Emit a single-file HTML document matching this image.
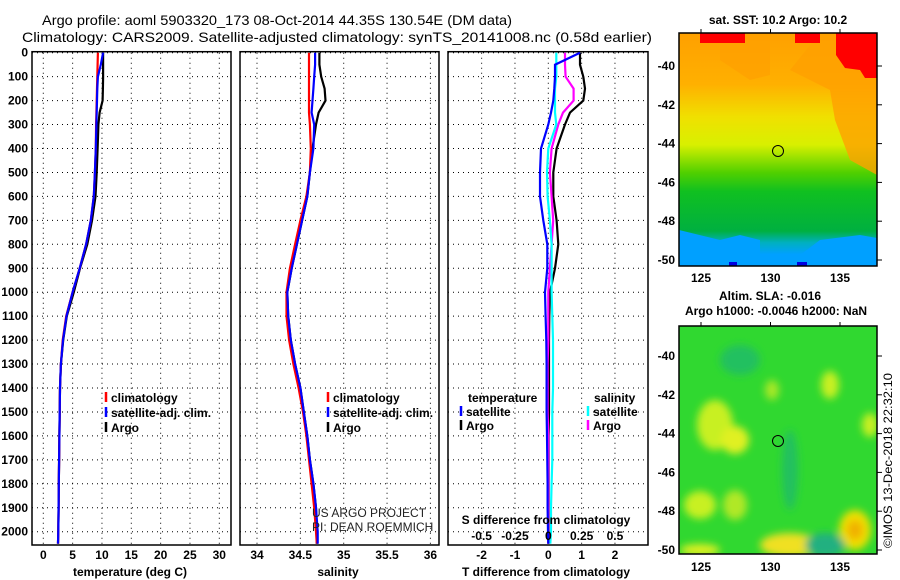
<!DOCTYPE html>
<html><head><meta charset="utf-8"><style>
html,body{margin:0;padding:0;background:#fff;}
svg{display:block;font-family:"Liberation Sans",sans-serif;}
.tk{font-size:12px;font-weight:bold;fill:#000;}
.lg{font-size:12px;font-weight:bold;fill:#000;}
</style></head><body>
<svg id="chart" width="900" height="580" viewBox="0 0 900 580" xmlns="http://www.w3.org/2000/svg">
<defs>
<linearGradient id="sstg" x1="0" y1="0" x2="0" y2="1">
<stop offset="0" stop-color="#ffa000"/><stop offset="0.22" stop-color="#ffb000"/>
<stop offset="0.36" stop-color="#f0e000"/><stop offset="0.48" stop-color="#d8f000"/>
<stop offset="0.6" stop-color="#50d000"/><stop offset="0.68" stop-color="#10c020"/>
<stop offset="0.85" stop-color="#00b040"/><stop offset="0.9" stop-color="#00b0c0"/>
<stop offset="0.95" stop-color="#00a0ff"/><stop offset="1" stop-color="#00a0ff"/>
</linearGradient>
<filter id="blur" x="-50%" y="-50%" width="200%" height="200%"><feGaussianBlur stdDeviation="4"/></filter>
<clipPath id="c1"><rect x="679" y="33" width="198" height="233"/></clipPath>
<clipPath id="c2"><rect x="679" y="326" width="198" height="228"/></clipPath>
</defs>
<g>
<text x="42" y="25" font-size="14" textLength="470" lengthAdjust="spacingAndGlyphs">Argo profile: aoml 5903320_173 08-Oct-2014 44.35S 130.54E (DM data)</text>
<text x="22" y="42" font-size="14" textLength="630" lengthAdjust="spacingAndGlyphs">Climatology: CARS2009. Satellite-adjusted climatology: synTS_20141008.nc (0.58d earlier)</text>
</g>
<g id="p1"></g>
<g id="p2"></g>
<g id="p3"></g>
<text x="312" y="517" font-size="12" fill="#222">US ARGO PROJECT</text>
<text x="312" y="531" font-size="12" fill="#222">PI: DEAN ROEMMICH</text>

<g>
<text x="778" y="24" text-anchor="middle" class="tk">sat. SST: 10.2 Argo: 10.2</text>
<g clip-path="url(#c1)">
<rect x="679" y="33" width="198" height="233" fill="url(#sstg)"/>
<path d="M820 33 L877 33 L877 175 L850 160 L835 120 L830 90 L810 80 L790 70 Z" fill="#ffa000" opacity="0.8"/>
<path d="M720 33 L770 33 L770 75 L750 80 L735 70 L720 60 Z" fill="#ffa000" opacity="0.7"/>
<rect x="700" y="33" width="45" height="10" fill="#ff0000"/>
<rect x="795" y="33" width="25" height="10" fill="#ff0000"/>
<path d="M836 33 L877 33 L877 78 L865 78 L860 70 L845 68 L836 55 Z" fill="#ff0000"/>
<path d="M679 230 L720 240 L740 235 L760 240 L760 266 L679 266 Z" fill="#00a0ff"/>
<path d="M800 255 L820 240 L860 235 L877 238 L877 266 L800 266 Z" fill="#00a0ff"/>
<rect x="729" y="262" width="8" height="4" fill="#0000e0"/>
<rect x="797" y="262" width="10" height="4" fill="#0000e0"/>
</g>
<rect x="679" y="33" width="198" height="233" fill="none" stroke="#000" stroke-width="1.5"/>
<circle cx="778" cy="151" r="5.5" fill="none" stroke="#000" stroke-width="1"/>
</g>

<g>
<text x="770" y="300" text-anchor="middle" class="tk">Altim. SLA: -0.016</text>
<text x="776" y="315" text-anchor="middle" class="tk">Argo h1000: -0.0046 h2000: NaN</text>
<g clip-path="url(#c2)">
<rect x="679" y="326" width="198" height="228" fill="#30d830"/>
<g filter="url(#blur)">
<ellipse cx="715" cy="425" rx="18" ry="25" fill="#c8f020"/>
<ellipse cx="735" cy="440" rx="14" ry="14" fill="#e0f020"/>
<ellipse cx="735" cy="505" rx="12" ry="15" fill="#b0e828"/>
<ellipse cx="700" cy="505" rx="16" ry="14" fill="#c8f020"/>
<ellipse cx="830" cy="385" rx="9" ry="14" fill="#c8f020"/>
<ellipse cx="772" cy="390" rx="7" ry="10" fill="#a8e828"/>
<ellipse cx="855" cy="530" rx="16" ry="20" fill="#f0e000"/>
<ellipse cx="855" cy="530" rx="8" ry="10" fill="#f0b000"/>
<ellipse cx="790" cy="545" rx="30" ry="12" fill="#f0e020"/>
<ellipse cx="700" cy="550" rx="20" ry="6" fill="#e0f020"/>
<ellipse cx="825" cy="545" rx="20" ry="12" fill="#20b080"/>
<ellipse cx="790" cy="470" rx="8" ry="40" fill="#20c060"/>
<ellipse cx="740" cy="360" rx="20" ry="15" fill="#20c060"/>
<ellipse cx="870" cy="425" rx="8" ry="12" fill="#c8f020"/>
</g>
</g>
<rect x="679" y="326" width="198" height="228" fill="none" stroke="#000" stroke-width="1.5"/>
<circle cx="778" cy="441" r="5.5" fill="none" stroke="#000" stroke-width="1"/>
</g>
<text transform="translate(892,548) rotate(-90)" font-size="12" textLength="175" lengthAdjust="spacingAndGlyphs">©IMOS 13-Dec-2018 22:32:10</text>
</svg>
<script>
const depths=[0,50,100,150,200,250,300,400,500,600,700,800,900,1000,1100,1200,1300,1400,1500,1600,1700,1800,1900,2000,2050];
const tempClim=[9.3,9.25,9.2,9.15,9.1,9.05,9.0,8.95,8.8,8.6,8.1,7.3,6.2,5.0,3.9,3.3,3.0,2.85,2.8,2.75,2.7,2.65,2.6,2.55,2.5];
const tempSat=[10.2,9.8,9.3,9.2,9.15,9.1,9.05,8.95,8.8,8.6,8.1,7.3,6.2,5.0,3.95,3.35,3.0,2.85,2.8,2.75,2.7,2.65,2.6,2.55,2.5];
const tempArgo=[10.2,10.2,10.2,10.15,10.1,9.6,9.4,9.25,9.1,8.9,8.3,7.5,6.25,5.2,4.0,3.4,3.0,2.85,2.8,2.75,2.7,2.65,2.6,2.55,2.5];
const salClim=[34.60,34.60,34.60,34.60,34.60,34.60,34.61,34.62,34.61,34.57,34.50,34.44,34.38,34.34,34.34,34.37,34.42,34.48,34.53,34.57,34.60,34.63,34.66,34.68,34.69];
const salSat=[34.67,34.67,34.66,34.65,34.64,34.63,34.66,34.65,34.61,34.58,34.52,34.46,34.40,34.35,34.36,34.39,34.44,34.50,34.54,34.58,34.61,34.65,34.68,34.70,34.70];
const salArgo=[34.72,34.72,34.74,34.78,34.79,34.71,34.68,34.64,34.61,34.58,34.52,34.46,34.40,34.35,34.36,34.39,34.44,34.50,34.54,34.58,34.61,34.65,34.68,34.69,34.69];
const dTSat=[0.95,0.2,0.2,0.18,0.15,0.08,0.0,-0.22,-0.25,-0.25,-0.15,-0.03,-0.03,-0.1,-0.08,-0.06,-0.05,-0.05,-0.05,-0.04,-0.03,-0.02,-0.02,-0.01,0];
const dTArgo=[0.95,0.95,1.05,1.1,1.05,0.65,0.5,0.25,0.15,0.15,0.25,0.3,0.2,0.05,0.03,0.02,0.02,0.02,0.02,0.01,0.01,0.01,0.01,0.01,0];
const dSSat=[0.06,0.06,0.06,0.05,0.05,0.05,0.06,0.0,-0.01,-0.005,0.012,0.025,0.025,0.025,0.03,0.035,0.035,0.035,0.03,0.03,0.03,0.025,0.02,0.02,0.015];
const dSArgo=[0.125,0.125,0.13,0.19,0.19,0.11,0.075,0.025,0.012,0.025,0.037,0.025,0.012,0.0,0.0,0.0,-0.005,-0.005,-0.005,0.0,0.0,0.0,0.0,0.0,0.0];
const depthTicks=[0,100,200,300,400,500,600,700,800,900,1000,1100,1200,1300,1400,1500,1600,1700,1800,1900,2000];
const tempTicks=[0,5,10,15,20,25,30];
const salTicks=[34,34.5,35,35.5,36];
const salTickLabels=["34","34.5","35","35.5","36"];
const dTTicks=[-2,-1,0,1,2];
const dSTicks=[-0.5,-0.25,0,0.25,0.5];
const dSTickLabels=["-0.5","-0.25","0","0.25","0.5"];

const NS="http://www.w3.org/2000/svg";
const Y0=52.7, Y1=545;
const yD=d=>Y0+d*0.2395;
const xT=t=>43.3+t*5.867;
const xS=s=>257+(s-34)*86.7;
const xdT=t=>548.3+t*33.33;
const xdS=s=>548.3+s*133.3;
function el(p,tag,at){const e=document.createElementNS(NS,tag);for(const k in at)e.setAttribute(k,at[k]);p.appendChild(e);return e;}
function txt(p,x,y,s,anchor,cls){const t=el(p,'text',{x:x,y:y,'text-anchor':anchor||'start','class':cls||'tk'});t.textContent=s;return t;}
function panel(g,x0,x1,vticks,xf){
  for(const d of depthTicks){const l=el(g,'line',{x1:x0,x2:x1,y1:yD(d),y2:yD(d),stroke:'#000','stroke-width':1,'stroke-dasharray':'1,4'});
  
  }
  for(const v of vticks){const l=el(g,'line',{x1:xf(v),x2:xf(v),y1:Y0,y2:Y1,stroke:'#000','stroke-width':1,'stroke-dasharray':'1,4'});
  
  }
  const r=el(g,'rect',{x:x0,y:Y0-1,width:x1-x0,height:Y1-Y0+1,fill:'none',stroke:'#000','stroke-width':1.5});
  
  
}
function line(g,xs,xf,color,name){
  const pts=depths.map((d,i)=>xf(xs[i]).toFixed(1)+','+yD(d).toFixed(1)).join(' ');
  const p=el(g,'polyline',{points:pts,fill:'none',stroke:color,'stroke-width':2.2});
  
  
}
function legend(g,x,y,color,label){
  const l=el(g,'line',{x1:x,x2:x,y1:y-10,y2:y,stroke:color,'stroke-width':2.5});
  
  
  const t=txt(g,x+5,y,label,'start','lg');
  
  
}
// panel 1
const g1=document.getElementById('p1');
panel(g1,32,231,tempTicks,xT);
for(const d of depthTicks){const t=txt(g1,28,yD(d)+4,String(d),'end');

}
for(const v of tempTicks){const t=txt(g1,xT(v),559,String(v),'middle');

}
const a1=txt(g1,130,576,'temperature (deg C)','middle');


line(g1,tempArgo,xT,'#000','argo-temp-line');
line(g1,tempClim,xT,'#f00','clim-temp-line');
line(g1,tempSat,xT,'#00f','sat-temp-line');
legend(g1,106,402,'#f00','climatology');
legend(g1,106,417,'#00f','satellite-adj. clim.');
legend(g1,106,432,'#000','Argo');
// panel 2
const g2=document.getElementById('p2');
panel(g2,240,439,salTicks,xS);
salTicks.forEach((v,i)=>{const t=txt(g2,xS(v),559,salTickLabels[i],'middle');

});
const a2=txt(g2,338,576,'salinity','middle');


line(g2,salArgo,xS,'#000','argo-sal-line');
line(g2,salClim,xS,'#f00','clim-sal-line');
line(g2,salSat,xS,'#00f','sat-sal-line');
legend(g2,328,402,'#f00','climatology');
legend(g2,328,417,'#00f','satellite-adj. clim.');
legend(g2,328,432,'#000','Argo');
// panel 3
const g3=document.getElementById('p3');
panel(g3,448,648,dTTicks,xdT);
for(const v of dTTicks){const t=txt(g3,xdT(v),559,String(v),'middle');

}
const a3=txt(g3,546,576,'T difference from climatology','middle');


line(g3,dTArgo,xdT,'#000','argo-dT-line');
line(g3,dSArgo,xdS,'#f0f','argo-dS-line');
line(g3,dSSat,xdS,'#0ff','sat-dS-line');
line(g3,dTSat,xdT,'#00f','sat-dT-line');
dSTicks.forEach((v,i)=>{const t=txt(g3,xdS(v),540,dSTickLabels[i],'middle');

});
const a4=txt(g3,546,524,'S difference from climatology','middle');


const h1=txt(g3,468,402,'temperature','start','lg');


legend(g3,461,416,'#00f','satellite');
legend(g3,461,430,'#000','Argo');
const h2=txt(g3,594,402,'salinity','start','lg');


legend(g3,588,416,'#0ff','satellite');
legend(g3,588,430,'#f0f','Argo');
// map axes
const latTicks=[-40,-42,-44,-46,-48,-50];
const lonTicks=[125,130,135];
const svg=document.getElementById('chart');
function mapAxes(yTop,yBot,lat40,lat50,labelY){
  const yl=l=>lat40+(l+40)/(-10)*(lat50-lat40);
  const xl=l=>701+(l-125)*13.9;
  for(const l of latTicks){
    const t=txt(svg,675,yl(l)+4,String(l),'end');
    
    
    el(svg,'line',{x1:877,x2:882,y1:yl(l),y2:yl(l),stroke:'#000'});
  }
  for(const l of lonTicks){
    const t=txt(svg,xl(l),labelY,String(l),'middle');
    
    
    el(svg,'line',{x1:xl(l),x2:xl(l),y1:yTop-4,y2:yTop,stroke:'#000'});
  }
}
mapAxes(33,266,66,260,282);
mapAxes(326,554,356,550,571);
</script>
</body></html>
